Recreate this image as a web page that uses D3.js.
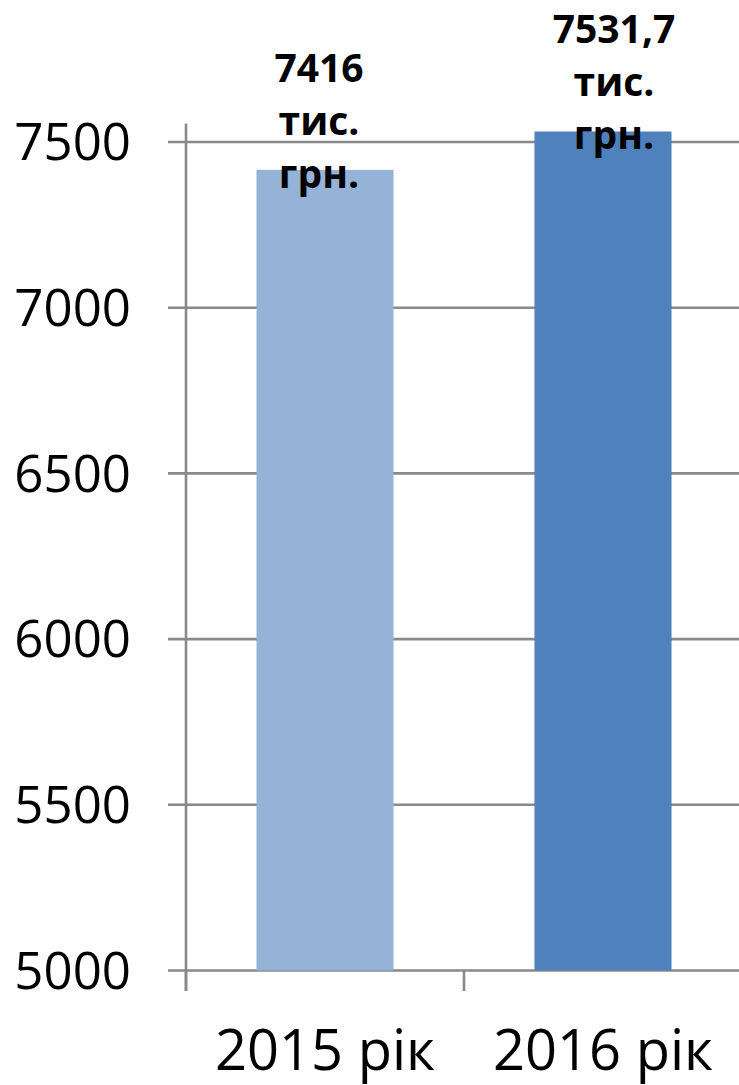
<!DOCTYPE html>
<html>
<head>
<meta charset="utf-8">
<script src="https://cdn.jsdelivr.net/npm/d3@7"></script>
<style>
  html, body { margin: 0; padding: 0; background: #fff; }
  svg { display: block; }
  text { font-family: "Open Sans", "Noto Sans", sans-serif; fill: #000; }
</style>
</head>
<body>
<svg id="chart" width="739" height="1085"></svg>
<script>
const categories = ["2015 рік", "2016 рік"];
const values = [7416, 7531.7];
const valueLabels = [["7416", "тис.", "грн."], ["7531,7", "тис.", "грн."]];
const yTicks = [5000, 5500, 6000, 6500, 7000, 7500];
const yTickLabels = ["5000", "5500", "6000", "6500", "7000", "7500"];
const barColors = ["#95B3D7", "#4F81BD"];

const svg = d3.select("#chart");
const axisColor = "#898989";

const x = d3.scaleBand().domain(categories).range([186, 742]).padding(0);
const y = d3.scaleLinear().domain([5000, 7500]).range([970.5, 142]);
const barFrac = 0.493;
const labelShift = [-6, 11]; // manual label nudges as in the original

// gridlines + left stubs
svg.append("g").selectAll("line").data(yTicks).join("line")
  .attr("x1", 168).attr("x2", 742)
  .attr("y1", d => y(d)).attr("y2", d => y(d))
  .attr("stroke", axisColor).attr("stroke-width", 2.6);

// bars
svg.append("g").selectAll("rect").data(values).join("rect")
  .attr("x", (d, i) => x(categories[i]) + x.bandwidth() * (1 - barFrac) / 2)
  .attr("width", x.bandwidth() * barFrac)
  .attr("y", d => y(d))
  .attr("height", d => y(5000) - y(d))
  .attr("fill", (d, i) => barColors[i]);

// y axis line
svg.append("line")
  .attr("x1", 186).attr("x2", 186)
  .attr("y1", y(7556)).attr("y2", y(5000) + 20.5)
  .attr("stroke", axisColor).attr("stroke-width", 2.6);

// x axis ticks at band boundaries
const bounds = categories.map(c => x(c)).concat([x.range()[1]]);
svg.append("g").selectAll("line").data(bounds).join("line")
  .attr("x1", d => d).attr("x2", d => d)
  .attr("y1", y(5000)).attr("y2", y(5000) + 20.5)
  .attr("stroke", axisColor).attr("stroke-width", 2.6);

// y tick labels
svg.append("g").selectAll("text").data(yTicks).join("text")
  .attr("x", 131).attr("y", d => y(d))
  .attr("dy", "0.36em")
  .attr("text-anchor", "end")
  .attr("font-size", 51)
  .text((d, i) => yTickLabels[i]);

// x category labels
svg.append("g").selectAll("text").data(categories).join("text")
  .attr("x", d => x(d) + x.bandwidth() / 2)
  .attr("y", 1070)
  .attr("text-anchor", "middle")
  .attr("font-size", 56)
  .text(d => d);

// value labels
const lineH = 53;
const lg = svg.append("g");
values.forEach((v, i) => {
  const cx = x(categories[i]) + x.bandwidth() / 2 + labelShift[i];
  const lines = valueLabels[i];
  const lastBase = y(v) + 18;
  lines.forEach((t, j) => {
    lg.append("text")
      .attr("x", cx)
      .attr("y", lastBase - (lines.length - 1 - j) * lineH)
      .attr("text-anchor", "middle")
      .attr("font-size", 39)
      .attr("font-weight", "bold")
      .text(t);
  });
});
</script>
</body>
</html>
